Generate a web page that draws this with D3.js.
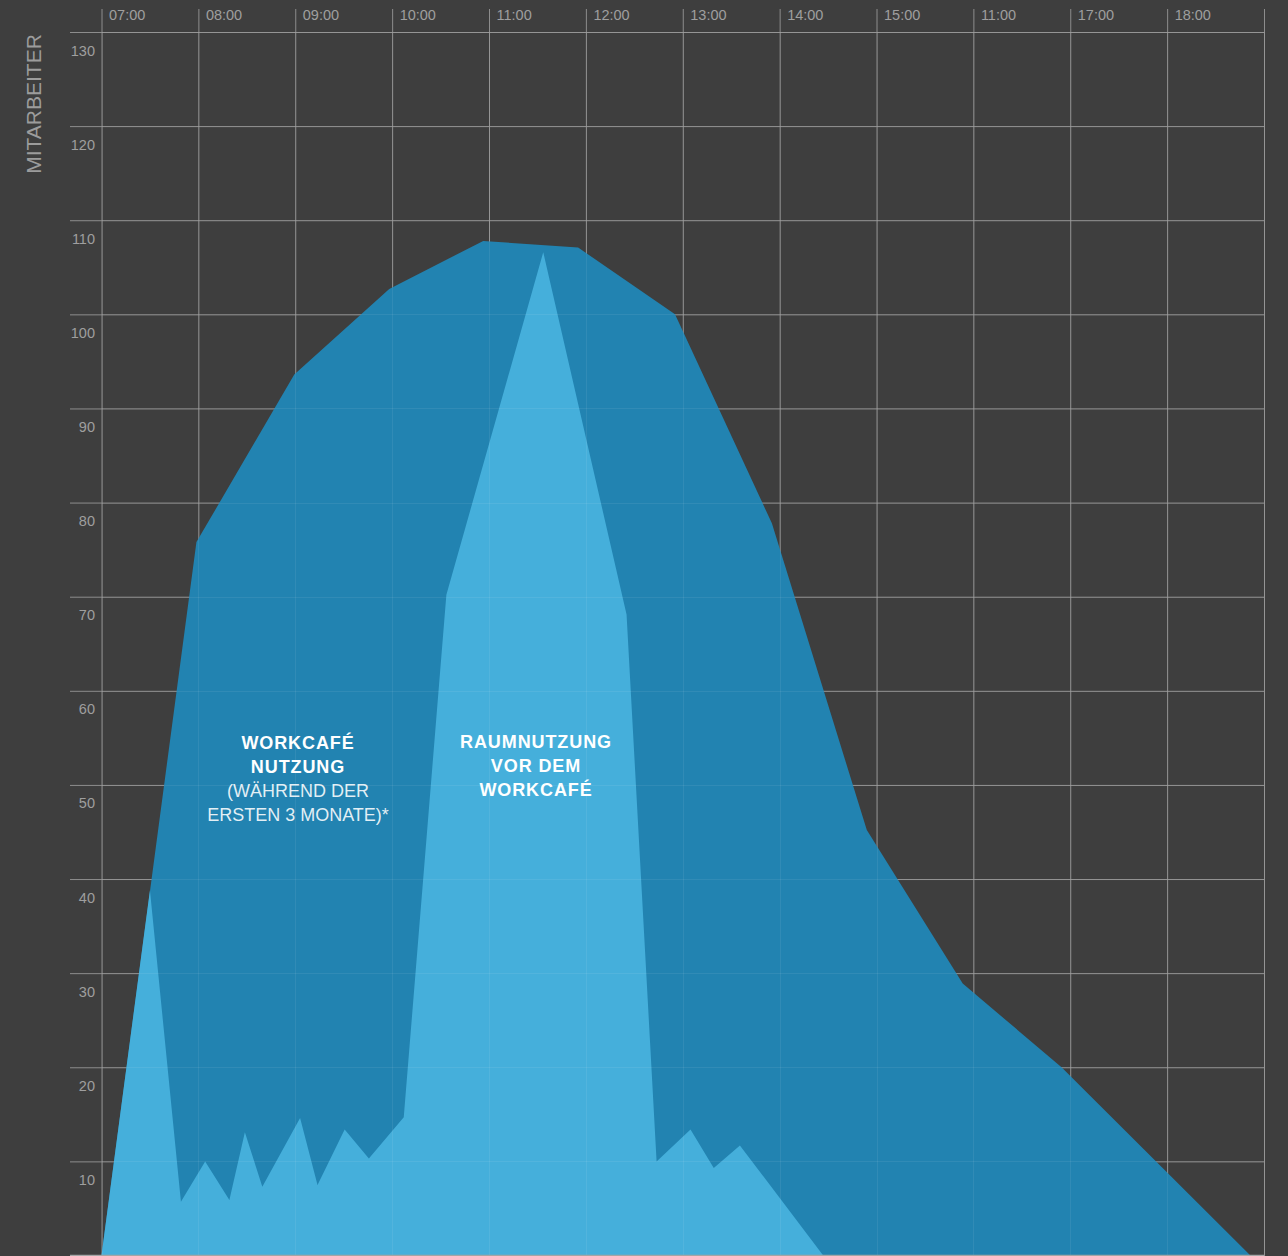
<!DOCTYPE html>
<html lang="de">
<head>
<meta charset="utf-8">
<script src="https://cdn.jsdelivr.net/npm/d3@7/dist/d3.min.js"></script>
<style>
  html, body { margin: 0; padding: 0; background: #3e3e3e; }
  svg { display: block; }
  text { font-family: "Liberation Sans", Arial, Helvetica, sans-serif; }
</style>
</head>
<body>
<svg id="chart" width="1288" height="1256"></svg>
<script>
// Hour grid (07:00 … 19:00) and the labels printed above each hour line
const hourTicks = [7, 8, 9, 10, 11, 12, 13, 14, 15, 16, 17, 18, 19];
const hourLabels = ["07:00", "08:00", "09:00", "10:00", "11:00", "12:00",
                    "13:00", "14:00", "15:00", "11:00", "17:00", "18:00", ""];
const countTicks = [0, 10, 20, 30, 40, 50, 60, 70, 80, 90, 100, 110, 120, 130];

// Workcafé-Nutzung (während der ersten 3 Monate): time of day in hours, employees
const usageTimes  = [7.00, 7.98, 8.99, 9.97, 10.94, 11.92, 12.92, 13.92, 14.90, 15.89, 16.91, 18.86];
const usageValues = [0,    75.8, 93.6, 102.7, 107.8, 107.1, 100.0, 77.8, 45.2, 28.9, 20.0, 0];

// Raumnutzung vor dem Workcafé
const beforeTimes  = [7.00, 7.50, 7.82, 8.07, 8.32, 8.48, 8.66, 9.05, 9.23, 9.51, 9.76,
                      10.12, 10.56, 11.56, 12.42, 12.73, 13.08, 13.32, 13.59, 14.45];
const beforeValues = [0,    38.8, 5.7,  10.0, 5.9,  13.1, 7.3,  14.6, 7.5,  13.4, 10.3,
                      14.7, 70.2, 106.6, 68.1, 10.0, 13.4, 9.3,  11.7, 0];

const svg = d3.select("#chart");
const W = 1288, H = 1256;

const x = d3.scaleLinear().domain([7, 19]).range([101.5, 1264]);
const y = d3.scaleLinear().domain([0, 130]).range([1255.5, 32]);

const gridColor = "#8d8d8d";
const labelColor = "#9f9f9f";

// background
svg.append("rect").attr("width", W).attr("height", H).attr("fill", "#3e3e3e");

// vertical hour lines with labels (top axis)
const xAxis = d3.axisTop(x)
  .tickValues(hourTicks)
  .tickFormat((d, i) => hourLabels[i])
  .tickSize(-(H - 9))
  .tickSizeOuter(0);
const gx = svg.append("g").attr("transform", "translate(0,9)").call(xAxis);
gx.select(".domain").remove();
gx.selectAll(".tick line").attr("stroke", gridColor).attr("stroke-width", 1);
gx.selectAll(".tick text")
  .attr("x", 7).attr("y", 10.5).attr("dy", null)
  .attr("text-anchor", "start")
  .attr("fill", labelColor)
  .style("font-size", "14.5px");

// horizontal count lines with labels (left axis)
const yAxis = d3.axisLeft(y)
  .tickValues(countTicks)
  .tickFormat(d => d === 0 ? "" : d)
  .tickSize(-(1264 - 70))
  .tickSizeOuter(0);
const gy = svg.append("g").attr("transform", "translate(70,0)").call(yAxis);
gy.select(".domain").remove();
gy.selectAll(".tick line").attr("stroke", gridColor).attr("stroke-width", 1);
gy.selectAll(".tick text")
  .attr("x", 25).attr("y", 23).attr("dy", null)
  .attr("text-anchor", "end")
  .attr("fill", labelColor)
  .style("font-size", "14.5px");

// areas
const area = (times, values) => d3.area()
  .x((d, i) => x(times[i]))
  .y0(y(0))
  .y1((d, i) => y(values[i]))(values);

svg.append("path")
  .attr("d", area(usageTimes, usageValues))
  .attr("fill", "#2283b1");

svg.append("path")
  .attr("d", area(beforeTimes, beforeValues))
  .attr("fill", "#45afdb");

// faint grid showing through the filled areas
const overlay = svg.append("g").attr("stroke", "#ffffff").attr("stroke-opacity", 0.07);
overlay.selectAll("line.v").data(hourTicks).join("line")
  .attr("class", "v")
  .attr("x1", d => Math.round(x(d)) + 0.5).attr("x2", d => Math.round(x(d)) + 0.5)
  .attr("y1", y(130)).attr("y2", H);
overlay.selectAll("line.h").data(countTicks).join("line")
  .attr("class", "h")
  .attr("x1", x(7)).attr("x2", 1264)
  .attr("y1", d => Math.round(y(d)) + 0.5).attr("y2", d => Math.round(y(d)) + 0.5);

// baseline
svg.append("line")
  .attr("x1", 70).attr("x2", 1264)
  .attr("y1", y(0)).attr("y2", y(0))
  .attr("stroke", "#a5a5a5").attr("stroke-width", 1.5);

// y axis title
svg.append("text")
  .attr("transform", "translate(41,104) rotate(-90)")
  .attr("text-anchor", "middle")
  .attr("fill", "#9c9c9c")
  .style("font-size", "21px")
  .text("MITARBEITER");

// series labels
function label(cx, top, lines) {
  const t = svg.append("text").attr("text-anchor", "middle").attr("fill", "#ffffff");
  lines.forEach((l, i) => {
    t.append("tspan")
      .attr("x", cx)
      .attr("y", top + i * 24)
      .style("font-size", "18px")
      .style("font-weight", l.bold ? "bold" : "normal")
      .style("letter-spacing", l.bold ? "0.9px" : "0")
      .attr("fill-opacity", l.bold ? 1 : 0.88)
      .text(l.text);
  });
}
label(298, 749, [
  { text: "WORKCAFÉ", bold: true },
  { text: "NUTZUNG", bold: true },
  { text: "(WÄHREND DER", bold: false },
  { text: "ERSTEN 3 MONATE)*", bold: false }
]);
label(536, 748, [
  { text: "RAUMNUTZUNG", bold: true },
  { text: "VOR DEM", bold: true },
  { text: "WORKCAFÉ", bold: true }
]);
</script>
</body>
</html>
